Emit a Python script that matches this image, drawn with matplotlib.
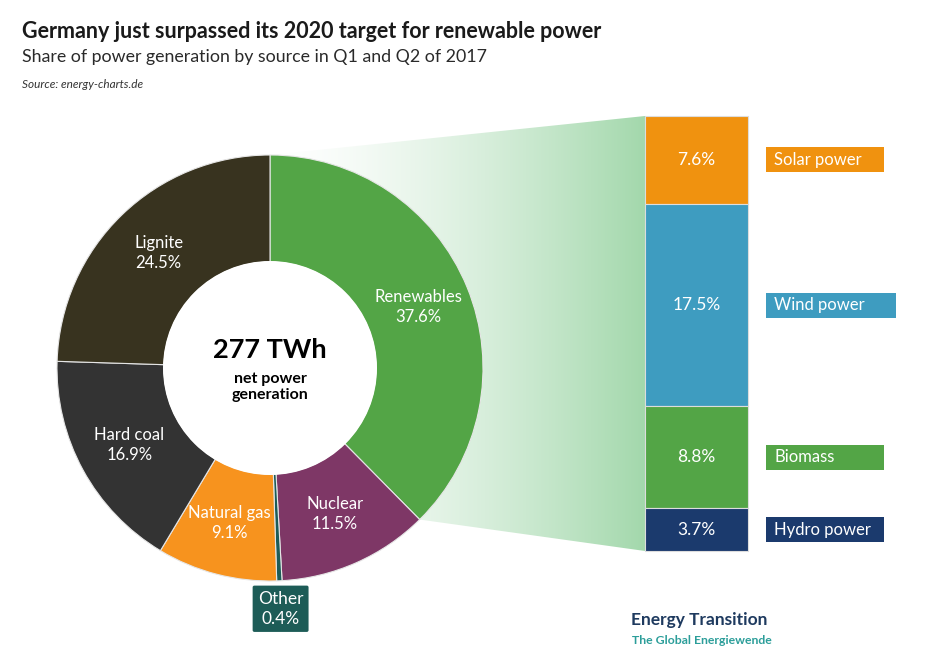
import numpy as np
import matplotlib.pyplot as plt
from matplotlib.patches import Polygon, Rectangle, Circle
from matplotlib.colors import to_rgb

plt.rcParams['font.family'] = ['Lato', 'DejaVu Sans']

# data
sources = ['Renewables', 'Nuclear', 'Other', 'Natural gas', 'Hard coal', 'Lignite']
shares = [37.6, 11.5, 0.4, 9.1, 16.9, 24.5]
source_colors = ['#53a546', '#7e3766', '#1d5c57', '#f7931e', '#333333', '#38331f']

renew_parts = ['Solar power', 'Wind power', 'Biomass', 'Hydro power']
renew_shares = [7.6, 17.5, 8.8, 3.7]
renew_colors = ['#f0920f', '#3e9cc0', '#53a546', '#1b3a6d']

total_twh = 277

# layout (pixels, y downwards)
cx, cy, R, hole = 270, 368, 213, 107
bar_x0, bar_w, bar_top, bar_bot = 645, 103, 116, 551
box_x, box_h = 766, 25
box_w = [118, 130, 118, 118]

fig = plt.figure(figsize=(9.46, 6.62), dpi=100)
ax = fig.add_axes([0, 0, 1, 1])

wedges, _ = ax.pie(shares, colors=source_colors, startangle=270, counterclock=True,
                   radius=R, center=(cx, cy),
                   wedgeprops=dict(width=R - hole + 1, edgecolor='#e6e6e6', linewidth=0.8))
for w in wedges:
    w.set_zorder(3)
# white hole on top: hides the inner edge lines and the funnel gradient
ax.add_patch(Circle((cx, cy), hole, fc='white', ec='none', zorder=4))

# funnel from renewables wedge to the stacked bar
end = np.deg2rad(wedges[0].theta2)
funnel = Polygon([(cx, cy - R), (bar_x0, bar_top), (bar_x0, bar_bot),
                  (cx + R * np.cos(end), cy + R * np.sin(end))],
                 closed=True, facecolor='none', edgecolor='none')
ax.add_patch(funnel)
t = np.linspace(0, 1, 300) ** 1.5
c0, c1 = np.array([1.0, 1.0, 1.0]), np.array(to_rgb('#a3d8ac'))
grad = (c0[None, :] * (1 - t[:, None]) + c1[None, :] * t[:, None])[None, :, :]
im = ax.imshow(grad, extent=(cx, bar_x0, bar_bot + 5, bar_top - 5), aspect='auto', zorder=1)
im.set_clip_path(funnel)

# wedge labels
for w, name, val in zip(wedges, sources, shares):
    mid = np.deg2rad((w.theta1 + w.theta2) / 2)
    if name == 'Other':
        r = 241
        ax.text(cx + r * np.cos(mid), cy + r * np.sin(mid), f'{name}\n{val}%',
                ha='center', va='center', color='white', fontsize=12.5, linespacing=1.3,
                zorder=5, bbox=dict(boxstyle='round,pad=0.3,rounding_size=0.1',
                                    fc=w.get_facecolor(), ec='none'))
        continue
    r = (R + hole) / 2
    ax.text(cx + r * np.cos(mid), cy + r * np.sin(mid), f'{name}\n{val}%',
            ha='center', va='center', color='white', fontsize=12,
            linespacing=1.3, zorder=5)
ax.text(cx, 350, f'{total_twh} TWh', ha='center', va='center', fontsize=19.5,
        weight='bold', color='black', zorder=5)
ax.text(cx, 387, 'net power\ngeneration', ha='center', va='center', fontsize=11.5,
        weight='bold', color='black', linespacing=1.2, zorder=5)

# stacked bar of renewables
scale = (bar_bot - bar_top) / sum(renew_shares)
heights = np.array(renew_shares) * scale
bottoms = bar_top + np.concatenate([[0], np.cumsum(heights)[:-1]])
ax.bar([bar_x0 + bar_w / 2] * len(heights), heights, width=bar_w, bottom=bottoms,
       color=renew_colors, edgecolor='#dddddd', linewidth=0.8, zorder=3)
for b, h, val, name, col, bw in zip(bottoms, heights, renew_shares, renew_parts,
                                    renew_colors, box_w):
    yc = b + h / 2
    ax.text(bar_x0 + bar_w / 2, yc, f'{val}%', ha='center', va='center',
            color='white', fontsize=12.5, zorder=5)
    ax.add_patch(Rectangle((box_x, yc - box_h / 2), bw, box_h, fc=col, ec='none', zorder=3))
    ax.text(box_x + 8, yc, name, ha='left', va='center', color='white',
            fontsize=12, zorder=5)

# titles
ax.text(22, 31, 'Germany just surpassed its 2020 target for renewable power',
        ha='left', va='center', fontsize=15.5, weight='bold', color='#1a1a1a')
ax.text(22, 57, 'Share of power generation by source in Q1 and Q2 of 2017',
        ha='left', va='center', fontsize=12.8, color='#2a2a2a')
ax.text(22, 85, 'Source: energy-charts.de', ha='left', va='center',
        fontsize=8.5, style='italic', color='#333333')

# logo
ax.text(631, 620, 'Energy Transition', ha='left', va='center', fontsize=12.5,
        weight='bold', color='#1e3a5f')
ax.text(632, 641, 'The Global Energiewende', ha='left', va='center', fontsize=8.8,
        weight='bold', color='#2c9e9a')

ax.set_xlim(0, 946)
ax.set_ylim(662, 0)
ax.set_aspect('equal')
ax.axis('off')
fig.savefig('out.png', dpi=100)
